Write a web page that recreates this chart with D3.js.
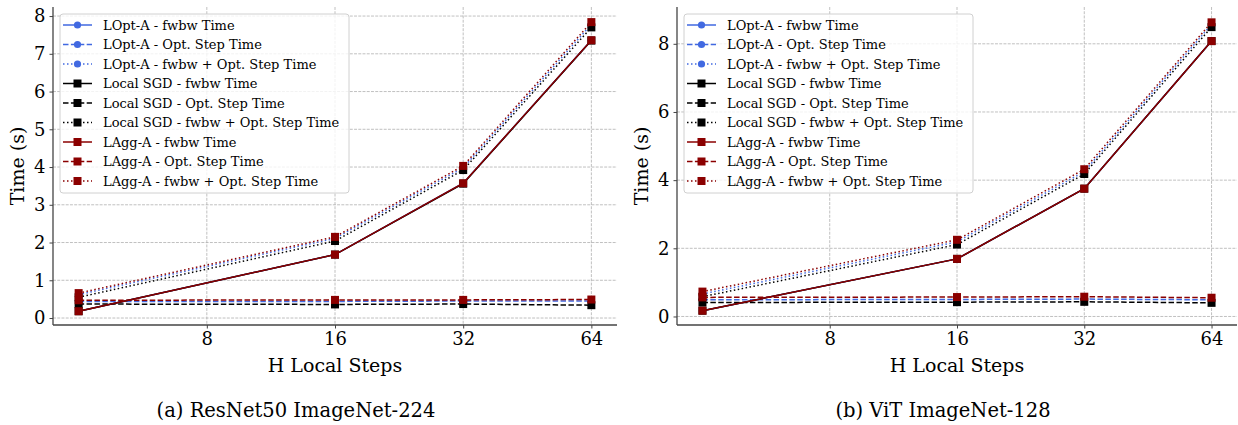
<!DOCTYPE html>
<html><head><meta charset="utf-8">
<script src="https://cdn.jsdelivr.net/npm/d3@7"></script>
<style>
body{margin:0;background:#fff;}
svg{display:block;}
text{font-family:"DejaVu Serif",serif;}
</style></head>
<body><svg id="c" width="1238" height="425"></svg>
<script>
const H = [4, 16, 32, 64];
const xTicks = [8, 16, 32, 64];
const yTicksA = [0,1,2,3,4,5,6,7,8];
const yTicksB = [0,2,4,6,8];

// (a) ResNet50 ImageNet-224
const resLOptFwbw = [0.18, 1.68, 3.57, 7.36];
const resLOptOpt  = [0.44, 0.44, 0.45, 0.45];
const resLOptTot  = [0.62, 2.11, 3.98, 7.78];
const resSGDFwbw  = [0.18, 1.68, 3.56, 7.35];
const resSGDOpt   = [0.37, 0.36, 0.37, 0.34];
const resSGDTot   = [0.55, 2.04, 3.92, 7.70];
const resLAggFwbw = [0.18, 1.68, 3.57, 7.36];
const resLAggOpt  = [0.47, 0.48, 0.48, 0.49];
const resLAggTot  = [0.66, 2.15, 4.03, 7.84];

// (b) ViT ImageNet-128
const vitLOptFwbw = [0.17, 1.69, 3.75, 8.08];
const vitLOptOpt  = [0.49, 0.50, 0.51, 0.49];
const vitLOptTot  = [0.66, 2.19, 4.25, 8.57];
const vitSGDFwbw  = [0.17, 1.69, 3.75, 8.08];
const vitSGDOpt   = [0.41, 0.42, 0.43, 0.40];
const vitSGDTot   = [0.58, 2.11, 4.18, 8.49];
const vitLAggFwbw = [0.17, 1.69, 3.75, 8.08];
const vitLAggOpt  = [0.56, 0.57, 0.58, 0.55];
const vitLAggTot  = [0.73, 2.25, 4.32, 8.63];

const methods = ["LOpt-A", "Local SGD", "LAgg-A"];
const kinds = ["fwbw Time", "Opt. Step Time", "fwbw + Opt. Step Time"];
const colors = {"LOpt-A":"#4169e1","Local SGD":"#000000","LAgg-A":"#8b0000"};
const markers = {"LOpt-A":"circle","Local SGD":"square","LAgg-A":"square"};
const dashes = ["none","5.5,2.4","1.5,2.5"];

const panels = [
  {caption:"(a) ResNet50 ImageNet-224", x0:53, x1:617, yDom:[-0.185,8.24], yTicks:yTicksA,
   data:[[resLOptFwbw,resLOptOpt,resLOptTot],[resSGDFwbw,resSGDOpt,resSGDTot],[resLAggFwbw,resLAggOpt,resLAggTot]],
   capX:296},
  {caption:"(b) ViT ImageNet-128", x0:677, x1:1237, yDom:[-0.25,9.08], yTicks:yTicksB,
   data:[[vitLOptFwbw,vitLOptOpt,vitLOptTot],[vitSGDFwbw,vitSGDOpt,vitSGDTot],[vitLAggFwbw,vitLAggOpt,vitLAggTot]],
   capX:943}
];

const svg = d3.select("#c");
const yTop = 7, yBot = 325;

function drawMarker(g, type, cx, cy, color){
  if(type==="circle"){
    g.append("circle").attr("cx",cx).attr("cy",cy).attr("r",3.6).attr("fill",color);
  } else {
    g.append("rect").attr("x",cx-4).attr("y",cy-4).attr("width",8).attr("height",8).attr("fill",color);
  }
}

panels.forEach(p=>{
  const x = d3.scaleLog().base(2).domain([Math.pow(2,1.8), Math.pow(2,6.2)]).range([p.x0,p.x1]);
  const y = d3.scaleLinear().domain(p.yDom).range([yBot, yTop]);
  const g = svg.append("g");

  // grid
  g.append("g").selectAll("line").data(p.yTicks).join("line")
    .attr("x1",p.x0).attr("x2",p.x1).attr("y1",d=>y(d)).attr("y2",d=>y(d))
    .attr("stroke","#b0b0b0").attr("stroke-width",0.8).attr("stroke-dasharray","2.96,1.28");
  g.append("g").selectAll("line").data(xTicks).join("line")
    .attr("x1",d=>x(d)).attr("x2",d=>x(d)).attr("y1",yTop).attr("y2",yBot)
    .attr("stroke","#b0b0b0").attr("stroke-width",0.8).attr("stroke-dasharray","2.96,1.28");

  // axes
  const xAxis = d3.axisBottom(x).tickValues(xTicks).tickFormat(d3.format("d")).tickSize(3.5).tickPadding(4);
  const yAxis = d3.axisLeft(y).tickValues(p.yTicks).tickFormat(d3.format("d")).tickSize(3.5).tickPadding(4);
  const gx = g.append("g").attr("transform",`translate(0,${yBot})`).call(xAxis);
  const gy = g.append("g").attr("transform",`translate(${p.x0},0)`).call(yAxis);
  [gx,gy].forEach(a=>{
    a.select(".domain").remove();
    a.selectAll(".tick line").attr("stroke","#444").attr("stroke-width",1);
    a.selectAll(".tick text").attr("font-family","DejaVu Serif").attr("font-size",18).attr("fill","#000");
  });
  g.append("line").attr("x1",p.x0).attr("x2",p.x1).attr("y1",yBot).attr("y2",yBot).attr("stroke","#444").attr("stroke-width",1.3);
  g.append("line").attr("x1",p.x0).attr("x2",p.x0).attr("y1",yTop).attr("y2",yBot).attr("stroke","#444").attr("stroke-width",1.3);

  // lines
  const line = d3.line().x((d,i)=>x(H[i])).y(d=>y(d));
  methods.forEach((m,mi)=>{
    kinds.forEach((k,ki)=>{
      const vals = p.data[mi][ki];
      g.append("path").attr("d",line(vals)).attr("fill","none").attr("stroke",colors[m])
        .attr("stroke-width",1.5).attr("stroke-dasharray",dashes[ki]);
      vals.forEach((v,i)=>drawMarker(g, markers[m], x(H[i]), y(v), colors[m]));
    });
  });

  // labels
  g.append("text").attr("x",(p.x0+p.x1)/2).attr("y",372).attr("text-anchor","middle")
    .attr("font-size",19).text("H Local Steps");
  g.append("text").attr("transform",`translate(${p.x0-29},${(yTop+yBot)/2}) rotate(-90)`)
    .attr("text-anchor","middle").attr("font-size",19).text("Time (s)");
  g.append("text").attr("x",p.capX).attr("y",417).attr("text-anchor","middle")
    .attr("font-family","Liberation Serif").attr("font-size",19.5).text(p.caption);

  // legend
  const lx = p.x0+7, ly = 14, lw = 289, lh = 179;
  const lg = g.append("g");
  lg.append("rect").attr("x",lx).attr("y",ly).attr("width",lw).attr("height",lh).attr("rx",3)
    .attr("fill","#fff").attr("fill-opacity",0.8).attr("stroke","#d0d0d0").attr("stroke-width",1);
  let row = 0;
  methods.forEach(m=>{
    kinds.forEach((k,ki)=>{
      const ry = ly + 11 + row*19.5;
      lg.append("line").attr("x1",lx+3).attr("x2",lx+32).attr("y1",ry).attr("y2",ry)
        .attr("stroke",colors[m]).attr("stroke-width",1.5).attr("stroke-dasharray",dashes[ki]);
      drawMarker(lg, markers[m], lx+17.5, ry, colors[m]);
      lg.append("text").attr("x",lx+43).attr("y",ry+4.5).attr("font-size",13).text(m+" - "+k);
      row++;
    });
  });
});
</script></body></html>
